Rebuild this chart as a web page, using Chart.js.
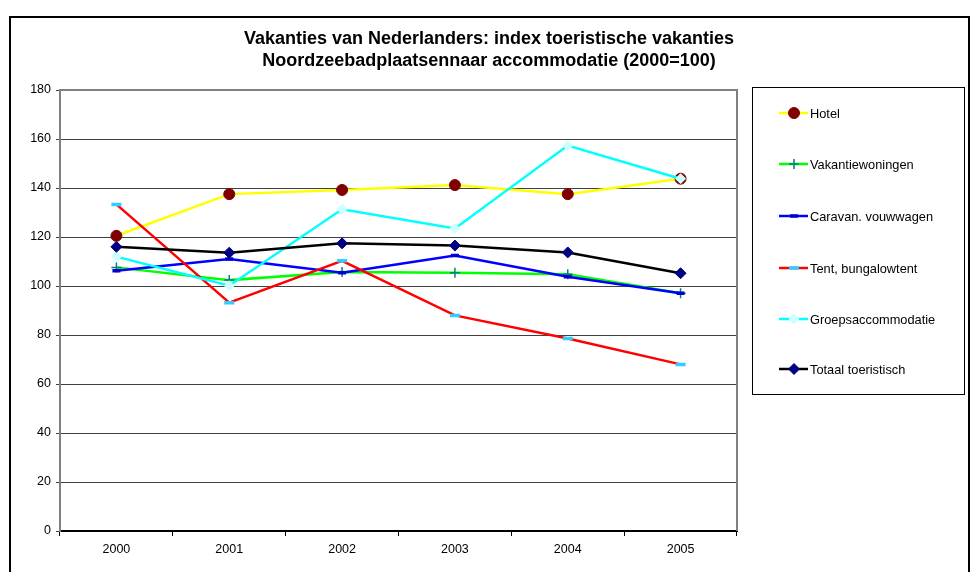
<!DOCTYPE html>
<html>
<head>
<meta charset="utf-8">
<script src="https://cdn.jsdelivr.net/npm/chart.js@4/dist/chart.umd.min.js"></script>
<style>
  body { margin: 0; background: #fff; }
  canvas { display: block; }
</style>
</head>
<body>
<canvas id="chart" width="971" height="572"></canvas>
<script>
const years = ['2000', '2001', '2002', '2003', '2004', '2005']
const hotel = [120.5, 137.5, 139.2, 141.2, 137.5, 143.8]
const vakantiewoningen = [107.6, 102.4, 105.7, 105.4, 104.8, 97]
const caravan = [106.2, 111, 105.4, 112.4, 103.8, 97]
const tent = [133.3, 93.2, 110.3, 88, 78.6, 68]
const groeps = [112, 100.1, 131.3, 123.5, 157.3, 143.8]
const totaal = [116, 113.6, 117.4, 116.5, 113.7, 105.2]

const titleLines = [
  'Vakanties van Nederlanders: index toeristische vakanties',
  'Noordzeebadplaatsennaar accommodatie (2000=100)'
]

const FONT = '"Liberation Sans", Arial, sans-serif'

function series (label, data, line, style, radius, fill, stroke, bw) {
  return {
    label,
    data,
    borderColor: line,
    borderWidth: 2.5,
    pointStyle: style,
    pointRadius: radius,
    pointHoverRadius: radius,
    pointBackgroundColor: fill,
    pointBorderColor: stroke,
    pointBorderWidth: bw,
    tension: 0,
    fill: false
  }
}

const datasets = [
  series('Hotel', hotel, '#FFFF00', 'circle', 5.5, '#800000', '#800000', 1),
  series('Vakantiewoningen', vakantiewoningen, '#00FF00', 'cross', 5, '#008080', '#008080', 1.5),
  series('Caravan. vouwwagen', caravan, '#0000FF', 'line', 4, '#0000CC', '#0000CC', 3.5),
  series('Tent, bungalowtent', tent, '#FF0000', 'line', 5, '#33CCFF', '#33CCFF', 3.5),
  series('Groepsaccommodatie', groeps, '#00FFFF', 'rectRot', 5, '#CCFFFF', '#CCFFFF', 1),
  series('Totaal toeristisch', totaal, '#000000', 'rectRot', 5.5, '#000080', '#000080', 1)
]
// later series drawn on top, like the original
datasets.forEach((d, i) => { d.order = datasets.length - i })

const frame = {
  id: 'frame',
  beforeDatasetsDraw (chart) {
    const { ctx, chartArea: a } = chart
    ctx.save()
    ctx.strokeStyle = '#808080'
    ctx.lineWidth = 2
    ctx.beginPath()
    ctx.moveTo(a.left, a.top)
    ctx.lineTo(a.right, a.top)
    ctx.lineTo(a.right, a.bottom)
    ctx.stroke()
    ctx.restore()
  },
  afterDraw (chart) {
    const ctx = chart.ctx
    ctx.save()
    // outer frame
    ctx.strokeStyle = '#000'
    ctx.lineWidth = 2
    ctx.beginPath()
    ctx.moveTo(10, 580)
    ctx.lineTo(10, 17)
    ctx.lineTo(969, 17)
    ctx.lineTo(969, 580)
    ctx.stroke()

    // title
    ctx.fillStyle = '#000'
    ctx.font = 'bold 18px ' + FONT
    ctx.textAlign = 'center'
    ctx.textBaseline = 'middle'
    ctx.fillText(titleLines[0], 489, 39)
    ctx.fillText(titleLines[1], 489, 61)

    // legend
    ctx.lineWidth = 1
    ctx.strokeStyle = '#000'
    ctx.strokeRect(752.5, 87.5, 212, 307)
    ctx.font = '12.8px ' + FONT
    ctx.textAlign = 'left'
    const ys = [113, 164, 216, 268, 319, 369]
    chart.data.datasets.forEach((d, i) => {
      const y = ys[i]
      ctx.strokeStyle = d.borderColor
      ctx.lineWidth = 2.5
      ctx.beginPath()
      ctx.moveTo(779, y)
      ctx.lineTo(808, y)
      ctx.stroke()
      ctx.fillStyle = d.pointBackgroundColor
      ctx.strokeStyle = d.pointBorderColor
      ctx.lineWidth = d.pointBorderWidth
      Chart.helpers.drawPoint(ctx, {
        pointStyle: d.pointStyle,
        radius: d.pointRadius,
        rotation: 0,
        borderWidth: d.pointBorderWidth
      }, 794, y)
      ctx.fillStyle = '#000'
      ctx.fillText(d.label, 810, y + 1)
    })
    ctx.restore()
  }
}

new Chart('chart', {
  type: 'line',
  data: { labels: years, datasets },
  options: {
    responsive: false,
    animation: false,
    devicePixelRatio: 1,
    layout: { padding: { left: 10, top: 90, right: 234, bottom: 0 } },
    plugins: {
      legend: { display: false },
      title: { display: false },
      tooltip: { enabled: false }
    },
    scales: {
      x: {
        offset: true,
        afterFit: scale => { scale.height = 41 },
        grid: { offset: true, drawOnChartArea: false, drawTicks: true, tickLength: 5, color: '#000' },
        border: { color: '#000', width: 2 },
        ticks: { color: '#000', font: { family: FONT, size: 12.5 }, padding: 6, maxRotation: 0 }
      },
      y: {
        min: 0,
        max: 180,
        afterFit: scale => { scale.width = 50 },
        grid: { color: '#404040', lineWidth: 1, tickLength: 4 },
        border: { color: '#808080', width: 2 },
        ticks: { stepSize: 20, color: '#000', font: { family: FONT, size: 12.5 }, padding: 5 }
      }
    }
  },
  plugins: [frame]
})
</script>
</body>
</html>
